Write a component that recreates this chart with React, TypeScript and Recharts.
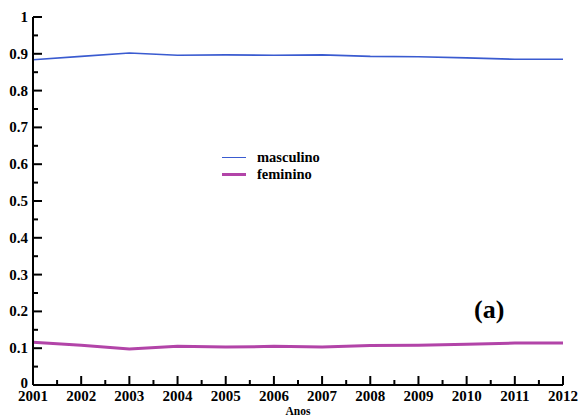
import React from 'react'
import { LineChart, Line, XAxis, YAxis } from 'recharts'

const years = [2001, 2002, 2003, 2004, 2005, 2006, 2007, 2008, 2009, 2010, 2011, 2012]
const masculino = [0.884, 0.893, 0.902, 0.896, 0.897, 0.896, 0.897, 0.893, 0.892, 0.889, 0.885, 0.885]
const feminino = [0.116, 0.108, 0.098, 0.105, 0.103, 0.105, 0.103, 0.107, 0.108, 0.111, 0.114, 0.114]

const xTicks = [
  2001, 2001.5, 2002, 2002.5, 2003, 2003.5, 2004, 2004.5, 2005, 2005.5, 2006, 2006.5,
  2007, 2007.5, 2008, 2008.5, 2009, 2009.5, 2010, 2010.5, 2011, 2011.5, 2012,
]
const yTicks = [
  0, 0.05, 0.1, 0.15, 0.2, 0.25, 0.3, 0.35, 0.4, 0.45, 0.5, 0.55, 0.6, 0.65, 0.7, 0.75,
  0.8, 0.85, 0.9, 0.95, 1,
]

const data = years.map((ano, i) => ({ ano, masculino: masculino[i], feminino: feminino[i] }))

const FONT = '"Times New Roman", "Liberation Serif", serif'
const BLUE = '#3a5bd0'
const PINK = '#b244a8'

const isMajorX = (v: number) => Number.isInteger(v)
const isMajorY = (v: number) => Math.round(v * 100) % 10 === 0
const fmtY = (v: number) => (v === 0 ? '0' : v === 1 ? '1' : v.toFixed(1))

const labelStyle = { fontFamily: FONT, fontWeight: 700, fontSize: 15 }

function BottomTick(props: any) {
  const { x, y, payload } = props
  const major = isMajorX(payload.value)
  return (
    <g>
      <line x1={x} y1={y} x2={x} y2={y - (major ? 9 : 5)} stroke="#000" strokeWidth={2} />
      {major && (
        <text x={x} y={y + 16} textAnchor="middle" style={labelStyle} fill="#000">
          {payload.value}
        </text>
      )}
    </g>
  )
}

function TopTick(props: any) {
  const { x, y, payload } = props
  const major = isMajorX(payload.value)
  return <line x1={x} y1={y} x2={x} y2={y + (major ? 9 : 5)} stroke="#000" strokeWidth={2} />
}

function LeftTick(props: any) {
  const { x, y, payload } = props
  const v = payload.value
  const major = isMajorY(v)
  return (
    <g>
      <line x1={x} y1={y} x2={x + (major ? 9 : 5)} y2={y} stroke="#000" strokeWidth={2} />
      {major && (
        <text x={x - 5} y={v === 0 ? y + 3 : y + 5} textAnchor="end" style={labelStyle} fill="#000">
          {fmtY(v)}
        </text>
      )}
    </g>
  )
}

function RightTick(props: any) {
  const { x, y, payload } = props
  const major = isMajorY(payload.value)
  return <line x1={x} y1={y} x2={x - (major ? 9 : 5)} y2={y} stroke="#000" strokeWidth={2} />
}

const axisLine = { stroke: '#000', strokeWidth: 2 }

export default function App() {
  return (
    <div style={{ position: 'absolute', left: 0, top: 0, width: 579, height: 420, background: '#fff' }}>
      <LineChart width={579} height={420} data={data} margin={{ top: 17, right: 16, bottom: 0, left: 0 }}>
        <XAxis
          dataKey="ano"
          type="number"
          domain={[2001, 2012]}
          ticks={xTicks}
          interval={0}
          height={35}
          tickSize={0}
          tickMargin={0}
          axisLine={axisLine}
          tickLine={false}
          tick={(p: any) => <BottomTick {...p} />}
        />
        <XAxis
          xAxisId="top"
          orientation="top"
          dataKey="ano"
          type="number"
          domain={[2001, 2012]}
          ticks={xTicks}
          interval={0}
          height={0}
          tickSize={0}
          tickMargin={0}
          axisLine={axisLine}
          tickLine={false}
          tick={(p: any) => <TopTick {...p} />}
        />
        <YAxis
          type="number"
          domain={[0, 1]}
          ticks={yTicks}
          interval={0}
          width={33}
          tickSize={0}
          tickMargin={0}
          axisLine={axisLine}
          tickLine={false}
          tick={(p: any) => <LeftTick {...p} />}
        />
        <YAxis
          yAxisId="right"
          orientation="right"
          type="number"
          domain={[0, 1]}
          ticks={yTicks}
          interval={0}
          width={0}
          tickSize={0}
          tickMargin={0}
          axisLine={axisLine}
          tickLine={false}
          tick={(p: any) => <RightTick {...p} />}
        />
        <Line type="linear" dataKey="masculino" stroke={BLUE} strokeWidth={1.6} dot={false} isAnimationActive={false} />
        <Line type="linear" dataKey="feminino" stroke={PINK} strokeWidth={3} dot={false} isAnimationActive={false} />
      </LineChart>

      <div style={{ position: 'absolute', left: 222, top: 149, fontFamily: FONT, fontWeight: 700, fontSize: 14.5 }}>
        <div style={{ display: 'flex', alignItems: 'center', height: 17 }}>
          <span style={{ display: 'inline-block', width: 24, height: 0, borderTop: `1.6px solid ${BLUE}`, marginRight: 11 }} />
          <span>masculino</span>
        </div>
        <div style={{ display: 'flex', alignItems: 'center', height: 17 }}>
          <span style={{ display: 'inline-block', width: 24, height: 0, borderTop: `3px solid ${PINK}`, marginRight: 11 }} />
          <span>feminino</span>
        </div>
      </div>

      <div
        style={{
          position: 'absolute',
          left: 474,
          top: 296,
          fontFamily: FONT,
          fontWeight: 700,
          fontSize: 26,
          lineHeight: '28px',
        }}
      >
        (a)
      </div>

      <div
        style={{
          position: 'absolute',
          left: 0,
          width: 596,
          top: 404,
          textAlign: 'center',
          fontFamily: FONT,
          fontWeight: 700,
          fontSize: 11.5,
          lineHeight: '14px',
        }}
      >
        Anos
      </div>
    </div>
  )
}
